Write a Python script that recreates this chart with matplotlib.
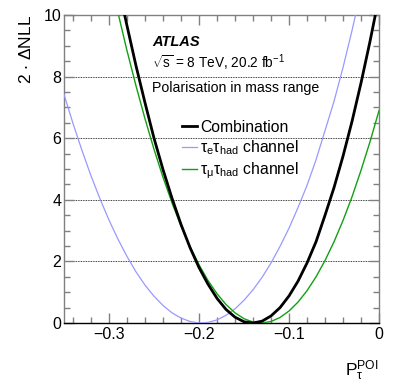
import matplotlib
matplotlib.use('Agg')
import matplotlib.pyplot as plt
from matplotlib.ticker import MultipleLocator

plt.rcParams['font.family'] = ['Liberation Sans', 'DejaVu Sans']
plt.rcParams['mathtext.fontset'] = 'custom'
plt.rcParams['mathtext.rm'] = 'Liberation Sans'
plt.rcParams['mathtext.it'] = 'Liberation Sans:italic'
plt.rcParams['mathtext.default'] = 'regular'

# combination curve
x_comb = [-0.29, -0.28, -0.27, -0.26, -0.25, -0.24, -0.23, -0.22, -0.21, -0.20,
          -0.19, -0.18, -0.17, -0.16, -0.15, -0.14, -0.13, -0.12, -0.11, -0.10,
          -0.09, -0.08, -0.07, -0.06, -0.05, -0.04, -0.03, -0.02, -0.01, 0.00]
y_comb = [11.0, 9.65, 8.35, 7.15, 6.0, 4.98, 4.05, 3.2, 2.45, 1.8,
          1.26, 0.80, 0.44, 0.19, 0.04, 0.0, 0.06, 0.23, 0.50, 0.88,
          1.36, 1.95, 2.64, 3.5, 4.4, 5.42, 6.55, 7.8, 9.15, 10.6]

# tau_e tau_had channel
x_e = [-0.35, -0.34, -0.33, -0.32, -0.31, -0.30, -0.29, -0.28, -0.27, -0.26,
       -0.25, -0.24, -0.23, -0.22, -0.21, -0.20, -0.19, -0.18, -0.17, -0.16,
       -0.15, -0.14, -0.13, -0.12, -0.11, -0.10, -0.09, -0.08, -0.07, -0.06,
       -0.05, -0.04, -0.03, -0.02]
y_e = [7.42, 6.48, 5.60, 4.78, 4.03, 3.34, 2.72, 2.16, 1.66, 1.23,
       0.87, 0.57, 0.33, 0.16, 0.05, 0.0, 0.02, 0.10, 0.25, 0.46,
       0.74, 1.08, 1.48, 1.95, 2.49, 3.08, 3.75, 4.47, 5.3, 6.25,
       7.2, 8.3, 9.5, 10.8]

# tau_mu tau_had channel
x_mu = [-0.30, -0.29, -0.28, -0.27, -0.26, -0.25, -0.24, -0.23, -0.22, -0.21,
        -0.20, -0.19, -0.18, -0.17, -0.16, -0.15, -0.14, -0.13, -0.12, -0.11,
        -0.10, -0.09, -0.08, -0.07, -0.06, -0.05, -0.04, -0.03, -0.02, -0.01, 0.00]
y_mu = [11.38, 10.07, 8.84, 7.70, 6.63, 5.64, 4.73, 3.90, 3.15, 2.48,
        1.89, 1.38, 0.95, 0.60, 0.33, 0.14, 0.03, 0.0, 0.05, 0.18,
        0.39, 0.68, 1.05, 1.50, 2.03, 2.64, 3.33, 4.10, 4.96, 5.89, 6.90]

fig = plt.figure(figsize=(3.99, 3.85), dpi=100)
ax = fig.add_axes([0.1604, 0.161, 0.7896, 0.800])

ax.plot(x_comb, y_comb, color='black', lw=2.0, label='Combination', zorder=4)
ax.plot(x_e, y_e, color='#9999ff', lw=0.9, label=r'$\tau_{e}\tau_{had}$ channel', zorder=3)
ax.plot(x_mu, y_mu, color='#11a011', lw=1.0, label=r'$\tau_{\mu}\tau_{had}$ channel', zorder=3)

for yg in [2, 4, 6, 8]:
    ax.axhline(yg, color='black', lw=0.6, ls=(0, (1, 1)), zorder=1)

ax.set_xlim(-0.35, 0)
ax.set_ylim(0, 10)
ax.xaxis.set_major_locator(MultipleLocator(0.1))
ax.xaxis.set_minor_locator(MultipleLocator(0.02))
ax.yaxis.set_major_locator(MultipleLocator(2))
ax.yaxis.set_minor_locator(MultipleLocator(0.5))
ax.set_xticks([-0.3, -0.2, -0.1, 0])
ax.set_xticklabels(['\u22120.3', '\u22120.2', '\u22120.1', '0'])

ax.tick_params(which='both', direction='in', top=True, right=True,
               color='#808080', width=1.0, labelsize=11.5, pad=3)
ax.tick_params(axis='y', pad=2)
ax.tick_params(which='major', length=7)
ax.tick_params(which='minor', length=4)
for side in ['left', 'right', 'top']:
    ax.spines[side].set_color('#808080')
ax.spines['bottom'].set_color('black')
for s in ax.spines.values():
    s.set_linewidth(1.0)

ax.set_ylabel(r'2 $\cdot$ $\Delta$NLL', fontsize=12.5, loc='top', labelpad=7)
ax.set_xlabel(r'$P_{\tau}^{POI}$', fontsize=12.5, loc='right', labelpad=12)

ax.text(0.279, 0.912, 'ATLAS', transform=ax.transAxes, fontsize=10.5,
        fontweight='bold', style='italic', va='center')
ax.text(0.279, 0.844, r'$\sqrt{s}$ = 8 TeV, 20.2 fb$^{-1}$', transform=ax.transAxes,
        fontsize=9.8, va='center')
ax.text(0.279, 0.764, 'Polarisation in mass range', transform=ax.transAxes,
        fontsize=10.2, va='center')

ax.legend(loc='center left', bbox_to_anchor=(0.35, 0.56), frameon=False,
          fontsize=11.3, handlelength=0.95, handletextpad=0.2, labelspacing=0.22,
          borderpad=0)

fig.savefig('out.png', dpi=100)
